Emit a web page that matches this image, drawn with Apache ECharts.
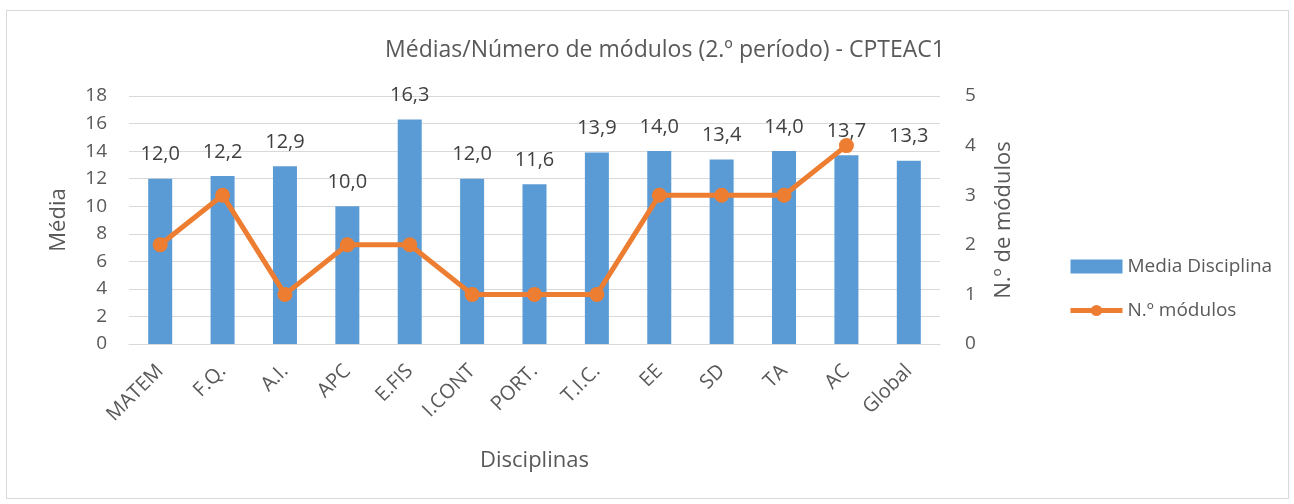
<!DOCTYPE html>
<html>
<head>
<meta charset="utf-8">
<script src="https://cdn.jsdelivr.net/npm/echarts@6/dist/echarts.min.js"></script>
<style>
  html, body { margin: 0; padding: 0; background: #fff; }
  #frame { position: absolute; left: 6px; top: 10px; width: 1283px; height: 489px; border: 1px solid #d9d9d9; box-sizing: border-box; }
  #chart { width: 1294px; height: 504px; }
</style>
</head>
<body>
<div id="frame"></div>
<div id="chart"></div>
<script>
// categorias e valores
const disciplinas = ['MATEM', 'F.Q.', 'A.I.', 'APC', 'E.FIS', 'I.CONT', 'PORT.', 'T.I.C.', 'EE', 'SD', 'TA', 'AC', 'Global'];
const mediaDisciplina = [12.0, 12.2, 12.9, 10.0, 16.3, 12.0, 11.6, 13.9, 14.0, 13.4, 14.0, 13.7, 13.3];
const numModulos = [2, 3, 1, 2, 2, 1, 1, 1, 3, 3, 3, 4, null];

const font = 'Open Sans';
const grey = '#595959';

let myChart = echarts.init(document.getElementById('chart'));
let option = {
  animation: false,
  textStyle: { fontFamily: font },
  title: {
    text: 'Médias/Número de módulos (2.º período) - CPTEAC1',
    left: 660, top: 34, textAlign: 'center',
    textStyle: { fontFamily: font, fontWeight: 'normal', fontSize: 23, color: grey }
  },
  legend: {
    orient: 'vertical',
    left: 1063, top: 252,
    itemGap: 25,
    itemWidth: 52, itemHeight: 14,
    textStyle: { fontFamily: font, fontSize: 19, color: grey },
    data: [
      { name: 'Media Disciplina', icon: 'rect' },
      { name: 'N.º módulos', lineStyle: { width: 5 } }
    ]
  },
  grid: { left: 129, right: 354, top: 96, bottom: 160 },
  xAxis: {
    type: 'category',
    data: disciplinas,
    name: 'Disciplinas',
    nameLocation: 'middle',
    nameGap: 106,
    nameTextStyle: { fontFamily: font, fontSize: 22, color: grey },
    axisLine: { lineStyle: { color: '#d9d9d9', width: 1 } },
    axisTick: { show: false },
    axisLabel: { rotate: 45, fontSize: 20, color: grey, margin: 24, interval: 0 }
  },
  yAxis: [
    {
      type: 'value', min: 0, max: 18, interval: 2,
      name: 'Média', nameLocation: 'middle', nameGap: 59,
      nameTextStyle: { fontFamily: font, fontSize: 22, color: grey },
      axisLabel: { fontSize: 19, color: grey, margin: 22 },
      axisLine: { show: false }, axisTick: { show: false },
      splitLine: { lineStyle: { color: '#d9d9d9', width: 1 } }
    },
    {
      type: 'value', min: 0, max: 5, interval: 1,
      name: 'N.º de módulos', nameLocation: 'middle', nameGap: 53, nameRotate: 90,
      nameTextStyle: { fontFamily: font, fontSize: 22, color: grey },
      axisLabel: { fontSize: 19, color: grey, margin: 25 },
      axisLine: { show: false }, axisTick: { show: false },
      splitLine: { show: false }
    }
  ],
  series: [
    {
      name: 'Media Disciplina',
      type: 'bar',
      data: mediaDisciplina,
      barWidth: 24,
      itemStyle: { color: '#5b9bd5' },
      label: {
        show: true, position: 'top', distance: 14,
        fontSize: 20, color: '#404040',
        formatter: p => p.value.toFixed(1).replace('.', ',')
      }
    },
    {
      name: 'N.º módulos',
      type: 'line',
      yAxisIndex: 1,
      data: numModulos,
      symbol: 'circle',
      symbolSize: 15,
      lineStyle: { color: '#ed7d31', width: 5 },
      itemStyle: { color: '#ed7d31' }
    }
  ]
};
myChart.setOption(option, true);
</script>
</body>
</html>
